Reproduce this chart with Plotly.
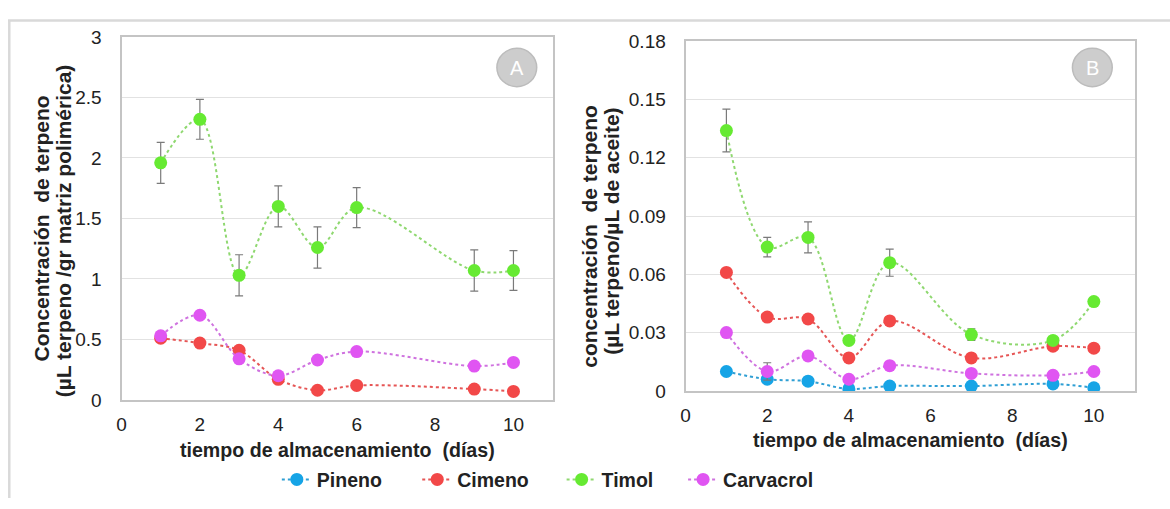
import plotly.graph_objects as go

# Storage time (days)
dias_a = [1, 2, 3, 4, 5, 6, 9, 10]
dias_b = [1, 2, 3, 4, 5, 7, 9, 10]

# Panel A: µL terpene / g polymer matrix
timol_a = [1.96, 2.32, 1.03, 1.60, 1.26, 1.59, 1.07, 1.07]
timol_a_err = [0.17, 0.165, 0.17, 0.17, 0.17, 0.165, 0.17, 0.165]
cimeno_a = [0.51, 0.47, 0.41, 0.17, 0.08, 0.12, 0.09, 0.07]
carvacrol_a = [0.53, 0.70, 0.34, 0.20, 0.33, 0.40, 0.28, 0.31]

# Panel B: µL terpene / µL oil
pineno_b = [0.010, 0.006, 0.005, 0.001, 0.0025, 0.0025, 0.0036, 0.0016]
cimeno_b = [0.061, 0.038, 0.037, 0.017, 0.036, 0.017, 0.023, 0.022]
cimeno_b_err = [0.0, 0.001, 0.002, 0.0, 0.0, 0.0, 0.0, 0.0]
timol_b = [0.134, 0.074, 0.079, 0.026, 0.066, 0.029, 0.026, 0.046]
timol_b_err = [0.011, 0.005, 0.008, 0.0, 0.007, 0.003, 0.002, 0.0015]
carvacrol_b = [0.030, 0.010, 0.018, 0.006, 0.013, 0.009, 0.008, 0.010]
carvacrol_b_err = [0.002, 0.0045, 0.0, 0.0, 0.0, 0.0, 0.0, 0.0]

ticks_a = [0, 0.5, 1, 1.5, 2, 2.5, 3]
ticks_a_txt = ["0", "0.5", "1", "1.5", "2", "2.5", "3"]
ticks_b = [0, 0.03, 0.06, 0.09, 0.12, 0.15, 0.18]
ticks_b_txt = ["0", "0.03", "0.06", "0.09", "0.12", "0.15", "0.18"]

W, H = 1170, 509
FONT = "Liberation Sans, Arial, sans-serif"
TXT = "#222222"

styles = {
    "Pineno": dict(marker="#16a4e6", line="#2f9fd4", legend="legend"),
    "Cimeno": dict(marker="#f24848", line="#e65555", legend="legend2"),
    "Timol": dict(marker="#66ea32", line="#8fd870", legend="legend3"),
    "Carvacrol": dict(marker="#e055f2", line="#cf72df", legend="legend4"),
}
# left edge of each legend entry (px)
legend_left = {"legend": 273, "legend2": 414, "legend3": 559, "legend4": 681}


def px_x(p):
    return p / W


def px_y(p):
    return (H - p) / H


def series(name, x, y, xa, ya, err=None, show=False):
    st = styles[name]
    kw = {}
    if err is not None:
        kw["error_y"] = dict(type="data", array=err, visible=True,
                             color="#7a7a7a", thickness=1.2, width=4)
    return go.Scatter(
        x=x, y=y, name=name, xaxis=xa, yaxis=ya,
        mode="lines+markers", showlegend=show, legendgroup=name,
        legend=st["legend"],
        line=dict(color=st["line"], width=2, dash="dot",
                  shape="spline", smoothing=1.0),
        marker=dict(color=st["marker"], size=13, line=dict(width=0)),
        **kw,
    )


fig = go.Figure()
# Panel A
fig.add_trace(series("Timol", dias_a, timol_a, "x", "y", err=timol_a_err))
fig.add_trace(series("Cimeno", dias_a, cimeno_a, "x", "y"))
fig.add_trace(series("Carvacrol", dias_a, carvacrol_a, "x", "y"))
# Panel B (legend entries come from here)
fig.add_trace(series("Pineno", dias_b, pineno_b, "x2", "y2", show=True))
fig.add_trace(series("Cimeno", dias_b, cimeno_b, "x2", "y2", err=cimeno_b_err, show=True))
fig.add_trace(series("Timol", dias_b, timol_b, "x2", "y2", err=timol_b_err, show=True))
fig.add_trace(series("Carvacrol", dias_b, carvacrol_b, "x2", "y2", err=carvacrol_b_err, show=True))

axis_common = dict(
    showline=True, mirror=True, linecolor="#c4c4c4", linewidth=2,
    tickfont=dict(family=FONT, size=19, color=TXT),
    zeroline=False, ticks="",
)
xticks = dict(tickvals=[0, 2, 4, 6, 8, 10], ticktext=["0", "2", "4", "6", "8", "10"],
              ticklabelstandoff=6)

legend_font = dict(family=FONT, size=19.5, color=TXT, weight="bold")
legends = {
    key: dict(orientation="h", x=px_x(left), y=px_y(490), xanchor="left", yanchor="middle",
              font=legend_font, bgcolor="rgba(0,0,0,0)", itemwidth=30)
    for key, left in legend_left.items()
}

fig.update_layout(
    width=W, height=H,
    margin=dict(l=0, r=0, t=0, b=0),
    paper_bgcolor="white", plot_bgcolor="white",
    font=dict(family=FONT, color=TXT),
    xaxis=dict(domain=[px_x(117), px_x(550)], range=[0, 11], anchor="y",
               showgrid=False, **xticks, **axis_common),
    yaxis=dict(domain=[px_y(406.7), px_y(28.2)], range=[0, 3], anchor="x",
               tickvals=ticks_a, ticktext=ticks_a_txt, ticklabelstandoff=14,
               showgrid=True, gridcolor="#e2e2e2", gridwidth=1.2, **axis_common),
    xaxis2=dict(domain=[px_x(683.5), px_x(1134.5)], range=[0, 11], anchor="y2",
                showgrid=False, **xticks, **axis_common),
    yaxis2=dict(domain=[px_y(397.3), px_y(32.5)], range=[0, 0.18], anchor="x2",
                tickvals=ticks_b, ticktext=ticks_b_txt, ticklabelstandoff=14,
                showgrid=True, gridcolor="#e2e2e2", gridwidth=1.2, **axis_common),
    **legends,
)

ann = []
title_font = dict(family=FONT, size=19.6, color=TXT, weight="bold")
ytitle_font = dict(family=FONT, size=21, color=TXT, weight="bold")
# x axis titles
ann.append(dict(text="tiempo de almacenamiento  (días)", x=px_x(333.5), y=px_y(459),
                xref="paper", yref="paper", showarrow=False, font=title_font,
                xanchor="center", yanchor="middle"))
ann.append(dict(text="tiempo de almacenamiento  (días)", x=px_x(909), y=px_y(449),
                xref="paper", yref="paper", showarrow=False, font=title_font,
                xanchor="center", yanchor="middle"))
# y axis titles (two lines each)
for txt, xc, yc in [
    ("Concentración  de terpeno", 37, 228),
    ("(µL terpeno /gr matriz polimérica)", 59, 230),
    ("concentración  de terpeno", 587, 236),
    ("(µL terpeno/µL de aceite)", 609, 231),
]:
    ann.append(dict(text=txt, x=px_x(xc), y=px_y(yc), xref="paper", yref="paper",
                    showarrow=False, textangle=-90, font=ytitle_font,
                    xanchor="center", yanchor="middle"))

shapes = []
# panel badges
for letter, cx, cy in [("A", 514, 60), ("B", 1092, 60)]:
    r = 20
    shapes.append(dict(type="circle", xref="paper", yref="paper",
                       x0=px_x(cx - r), x1=px_x(cx + r), y0=px_y(cy + r), y1=px_y(cy - r),
                       fillcolor="#cdcdcd", line=dict(color="#bcbcbc", width=1.5)))
    ann.append(dict(text=letter, x=px_x(cx), y=px_y(cy), xref="paper", yref="paper",
                    showarrow=False, font=dict(family=FONT, size=20, color="white"),
                    xanchor="center", yanchor="middle"))

# outer frame (top and left edges)
shapes.append(dict(type="line", xref="paper", yref="paper", x0=px_x(3), x1=1,
                   y0=px_y(11), y1=px_y(11), line=dict(color="#d9d9d9", width=2.5)))
shapes.append(dict(type="line", xref="paper", yref="paper", x0=px_x(4.3), x1=px_x(4.3),
                   y0=px_y(11), y1=0, line=dict(color="#d9d9d9", width=2.5)))

fig.update_layout(annotations=ann, shapes=shapes)
fig.write_html("out.html")
